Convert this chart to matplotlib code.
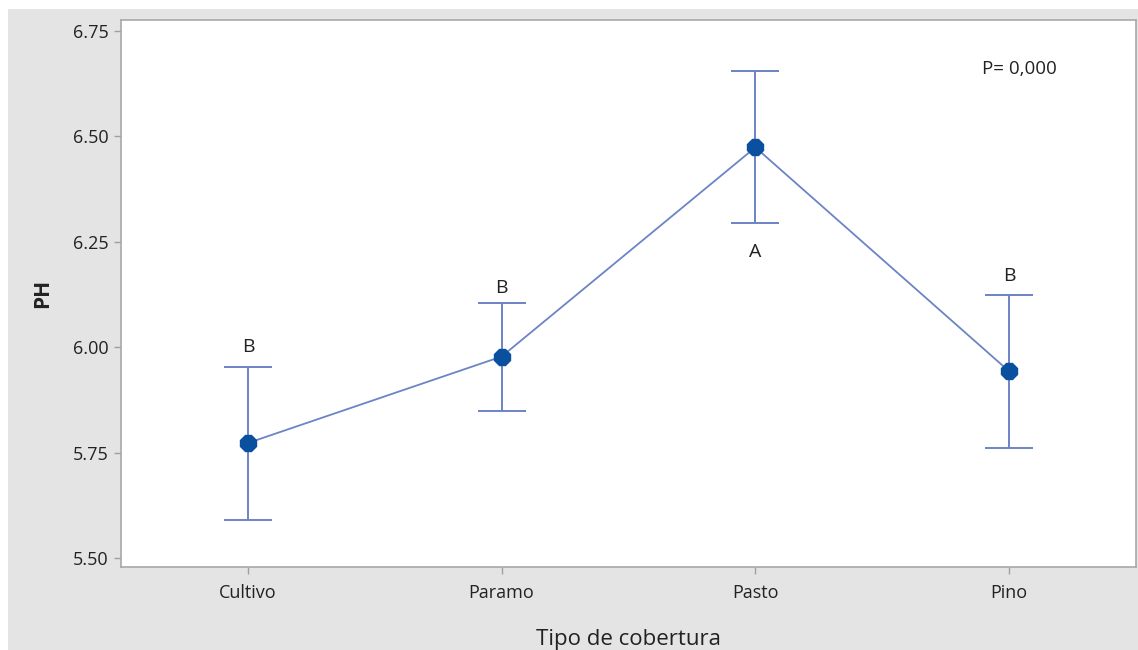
import matplotlib.pyplot as plt
from matplotlib.patches import Rectangle

plt.rcParams['font.family'] = ['Open Sans', 'DejaVu Sans']

categories = ["Cultivo", "Paramo", "Pasto", "Pino"]
means = [5.773, 5.978, 6.474, 5.943]
upper = [5.953, 6.106, 6.654, 6.123]
lower = [5.591, 5.848, 6.294, 5.761]
letters = ["B", "B", "A", "B"]
letter_y = [6.00, 6.14, 6.225, 6.17]

fig = plt.figure(figsize=(11.38, 6.5), dpi=100)
fig.patch.set_facecolor("white")
fig.patches.append(Rectangle((8 / 1138, 0), 1, 1 - 9 / 650, transform=fig.transFigure,
                             facecolor="#e4e4e4", edgecolor="none", zorder=-1))

ax = fig.add_axes([121 / 1138, 1 - 567 / 650, (1136 - 121) / 1138, (567 - 20) / 650])
ax.set_facecolor("white")

x = list(range(len(categories)))
err_lo = [m - l for m, l in zip(means, lower)]
err_hi = [u - m for m, u in zip(means, upper)]
ax.errorbar(x, means, yerr=[err_lo, err_hi], fmt="none", ecolor="#6b84c6",
            elinewidth=1.4, capsize=17, capthick=1.4, zorder=2)
ax.plot(x, means, color="#6b84c6", lw=1.3, zorder=3)
ax.plot(x, means, "8", color="#0b4f9f", markersize=12, zorder=4)

for xi, t, ty in zip(x, letters, letter_y):
    ax.text(xi, ty, t, ha="center", va="center", fontsize=14, color="#222222")

ax.text(0.885, 0.91, "P= 0,000", transform=ax.transAxes, ha="center", va="center",
        fontsize=13.5, color="#222222")

ax.set_xlim(-0.5, 3.5)
ax.set_ylim(5.479, 6.776)
ax.set_xticks(x)
ax.set_xticklabels(categories)
ax.set_yticks([5.50, 5.75, 6.00, 6.25, 6.50, 6.75])
ax.set_yticklabels(["5.50", "5.75", "6.00", "6.25", "6.50", "6.75"])
ax.tick_params(axis="both", colors="#a0a0a0", labelcolor="#222222", labelsize=13,
               length=5, width=1)
ax.tick_params(axis="x", pad=7)
ax.tick_params(axis="y", pad=4)
for lab in ax.get_xticklabels() + ax.get_yticklabels():
    lab.set_fontweight(500)
for s in ax.spines.values():
    s.set_color("#a8a8a8")
    s.set_linewidth(1.2)

ax.set_ylabel("PH", fontsize=15, fontweight="bold", color="#222222", labelpad=14)
ax.set_xlabel("Tipo de cobertura", fontsize=16, color="#222222", labelpad=20)

fig.savefig("out.png", dpi=100)
